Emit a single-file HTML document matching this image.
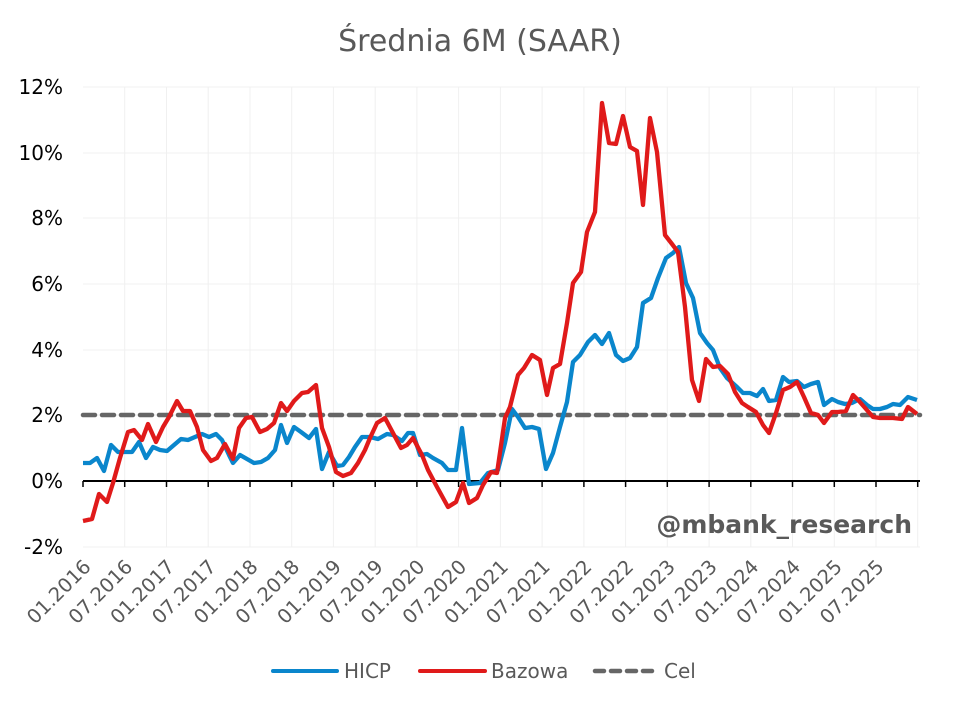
<!DOCTYPE html>
<html><head><meta charset="utf-8"><style>
html,body{margin:0;padding:0;background:#fff;}
svg{display:block;font-family:"DejaVu Sans","Liberation Sans",sans-serif;}
</style></head><body>
<svg width="960" height="706" viewBox="0 0 960 706" xmlns="http://www.w3.org/2000/svg">
<rect width="960" height="706" fill="#fff"/>
<text x="480" y="51" text-anchor="middle" font-size="30" fill="#595959">Średnia 6M (SAAR)</text>
<g stroke="#f0f0f0" stroke-width="1">
<line x1="83" y1="87" x2="920" y2="87"/><line x1="83" y1="153" x2="920" y2="153"/>
<line x1="83" y1="218" x2="920" y2="218"/><line x1="83" y1="284" x2="920" y2="284"/>
<line x1="83" y1="350" x2="920" y2="350"/><line x1="83" y1="415" x2="920" y2="415"/>
<line x1="83" y1="547" x2="920" y2="547"/>
<line x1="124.7" y1="87" x2="124.7" y2="547"/><line x1="166.5" y1="87" x2="166.5" y2="547"/>
<line x1="208.2" y1="87" x2="208.2" y2="547"/><line x1="250" y1="87" x2="250" y2="547"/>
<line x1="291.7" y1="87" x2="291.7" y2="547"/><line x1="333.4" y1="87" x2="333.4" y2="547"/>
<line x1="375.2" y1="87" x2="375.2" y2="547"/><line x1="416.9" y1="87" x2="416.9" y2="547"/>
<line x1="458.6" y1="87" x2="458.6" y2="547"/><line x1="500.4" y1="87" x2="500.4" y2="547"/>
<line x1="542.1" y1="87" x2="542.1" y2="547"/><line x1="583.9" y1="87" x2="583.9" y2="547"/>
<line x1="625.6" y1="87" x2="625.6" y2="547"/><line x1="667.3" y1="87" x2="667.3" y2="547"/>
<line x1="709.1" y1="87" x2="709.1" y2="547"/><line x1="750.8" y1="87" x2="750.8" y2="547"/>
<line x1="792.5" y1="87" x2="792.5" y2="547"/><line x1="834.3" y1="87" x2="834.3" y2="547"/>
<line x1="876" y1="87" x2="876" y2="547"/><line x1="917.7" y1="87" x2="917.7" y2="547"/>
</g>
<g font-size="20" fill="#000" text-anchor="end">
<text x="63" y="94">12%</text><text x="63" y="160">10%</text><text x="63" y="225">8%</text>
<text x="63" y="291">6%</text><text x="63" y="357">4%</text><text x="63" y="422">2%</text>
<text x="63" y="488">0%</text><text x="63" y="554">-2%</text>
</g>
<text x="912" y="533" text-anchor="end" font-size="25" font-weight="bold" fill="#595959">@mbank_research</text>
<line x1="83" y1="481" x2="920" y2="481" stroke="#000" stroke-width="2"/>
<g stroke="#000" stroke-width="1.5">
<line x1="83" y1="481" x2="83" y2="487"/><line x1="124.7" y1="481" x2="124.7" y2="487"/>
<line x1="166.5" y1="481" x2="166.5" y2="487"/><line x1="208.2" y1="481" x2="208.2" y2="487"/>
<line x1="250" y1="481" x2="250" y2="487"/><line x1="291.7" y1="481" x2="291.7" y2="487"/>
<line x1="333.4" y1="481" x2="333.4" y2="487"/><line x1="375.2" y1="481" x2="375.2" y2="487"/>
<line x1="416.9" y1="481" x2="416.9" y2="487"/><line x1="458.6" y1="481" x2="458.6" y2="487"/>
<line x1="500.4" y1="481" x2="500.4" y2="487"/><line x1="542.1" y1="481" x2="542.1" y2="487"/>
<line x1="583.9" y1="481" x2="583.9" y2="487"/><line x1="625.6" y1="481" x2="625.6" y2="487"/>
<line x1="667.3" y1="481" x2="667.3" y2="487"/><line x1="709.1" y1="481" x2="709.1" y2="487"/>
<line x1="750.8" y1="481" x2="750.8" y2="487"/><line x1="792.5" y1="481" x2="792.5" y2="487"/>
<line x1="834.3" y1="481" x2="834.3" y2="487"/><line x1="876" y1="481" x2="876" y2="487"/>
<line x1="917.7" y1="481" x2="917.7" y2="487"/>
</g>
<g font-size="19.5" fill="#595959" text-anchor="end">
<text transform="translate(92,568) rotate(-45)">01.2016</text>
<text transform="translate(133.7,568) rotate(-45)">07.2016</text>
<text transform="translate(175.5,568) rotate(-45)">01.2017</text>
<text transform="translate(217.2,568) rotate(-45)">07.2017</text>
<text transform="translate(259,568) rotate(-45)">01.2018</text>
<text transform="translate(300.7,568) rotate(-45)">07.2018</text>
<text transform="translate(342.4,568) rotate(-45)">01.2019</text>
<text transform="translate(384.2,568) rotate(-45)">07.2019</text>
<text transform="translate(425.9,568) rotate(-45)">01.2020</text>
<text transform="translate(467.6,568) rotate(-45)">07.2020</text>
<text transform="translate(509.4,568) rotate(-45)">01.2021</text>
<text transform="translate(551.1,568) rotate(-45)">07.2021</text>
<text transform="translate(592.9,568) rotate(-45)">01.2022</text>
<text transform="translate(634.6,568) rotate(-45)">07.2022</text>
<text transform="translate(676.3,568) rotate(-45)">01.2023</text>
<text transform="translate(718.1,568) rotate(-45)">07.2023</text>
<text transform="translate(759.8,568) rotate(-45)">01.2024</text>
<text transform="translate(801.5,568) rotate(-45)">07.2024</text>
<text transform="translate(843.3,568) rotate(-45)">01.2025</text>
<text transform="translate(885,568) rotate(-45)">07.2025</text>
</g>
<line x1="83" y1="415" x2="920" y2="415" stroke="#666" stroke-width="4.5" stroke-dasharray="12,7" stroke-linecap="round"/>
<polyline fill="none" stroke="#0a86cc" stroke-width="4.3" stroke-linejoin="round" points="83,463 90,463 97,458 104,471 111,445 118,452 125,452 132,452 139,442 146,458 153,447 160,450 167,451 174,445 181,439 188,440 195,437 202,434 209,437 216,434 222,440 229,455 233,463 240,455 247,459 254,463 261,462 268,458 275,450 281,425 287,443 294,427 301,432 309,438 316,429 322,469 329,452 337,466 343,465 349,457 355,447 362,437 370,437 378,439 387,434 393,435 402,441 408,433 413,433 420,455 427,454 433,458 442,463 448,470 456,470 462,428 469,484 480,483 488,473 498,470 505,443 512,409 518,417 525,428 532,427 539,429 546,469 553,453 560,427 567,402 573,362 580,355 588,342 595,335 602,344 609,333 616,355 623,361 630,358 637,347 643,303 651,298 658,278 666,258 673,253 679,247 686,283 693,298 700,333 707,343 713,350 720,368 727,378 737,387 743,393 750,393 757,396 763,389 769,401 776,400 783,377 789,382 797,381 804,387 811,384 818,382 824,405 832,399 838,402 845,404 852,403 860,399 867,405 873,409 880,409 887,407 893,404 900,405 908,397 917,400"/>
<polyline fill="none" stroke="#e01a1a" stroke-width="4.3" stroke-linejoin="round" points="83,521 92,519 99,494 107,502 113,483 120,458 128,432 134,430 142,440 148,424 156,442 163,427 169,417 177,401 183,411 190,411 197,427 203,450 211,461 217,458 225,444 233,459 239,428 246,418 252,417 260,432 267,429 274,423 281,403 287,411 294,401 302,393 308,392 316,385 322,428 329,447 336,472 343,476 351,473 358,463 365,450 370,438 377,423 385,418 393,433 401,448 407,445 413,438 422,455 428,470 437,487 448,507 456,502 463,483 469,503 477,498 483,485 491,472 497,473 505,418 510,407 518,375 524,368 532,355 540,360 547,395 553,368 560,364 567,323 573,283 581,272 587,232 595,212 602,103 609,143 616,144 623,116 630,147 637,151 643,205 650,118 657,152 665,235 672,244 678,252 685,307 692,380 699,401 706,359 713,367 720,366 728,374 735,392 742,403 748,407 756,412 763,425 769,433 776,413 783,390 790,387 797,382 804,397 811,413 818,415 824,423 832,412 838,412 846,411 853,395 859,401 866,409 873,417 880,418 887,418 893,418 902,419 908,407 917,414"/>
<line x1="273" y1="671" x2="337" y2="671" stroke="#0a86cc" stroke-width="4" stroke-linecap="round"/>
<text x="344" y="678" font-size="20" fill="#595959">HICP</text>
<line x1="420" y1="671" x2="485" y2="671" stroke="#e01a1a" stroke-width="4" stroke-linecap="round"/>
<text x="491" y="678" font-size="20" fill="#595959">Bazowa</text>
<line x1="595" y1="671" x2="656" y2="671" stroke="#666" stroke-width="4.5" stroke-dasharray="9,7" stroke-linecap="round"/>
<text x="664" y="678" font-size="20" fill="#595959">Cel</text>
</svg>
</body></html>
